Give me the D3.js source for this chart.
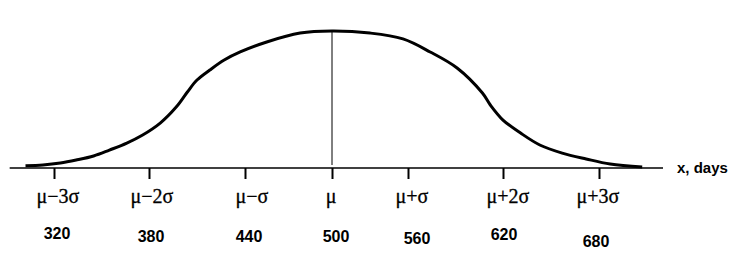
<!DOCTYPE html>
<html>
<head>
<meta charset="utf-8">
<script src="https://cdn.jsdelivr.net/npm/d3@7"></script>
<style>
  body { margin: 0; background: #fff; }
  svg { display: block; }
</style>
</head>
<body>
<div id="chart"></div>
<script>
// tick positions in days, with sigma labels
var tickDays = [320, 380, 440, 500, 560, 620, 680];
var sigmaLabels = ["\u03bc\u22123\u03c3", "\u03bc\u22122\u03c3", "\u03bc\u2212\u03c3", "\u03bc", "\u03bc+\u03c3", "\u03bc+2\u03c3", "\u03bc+3\u03c3"];
var dayLabels = ["320", "380", "440", "500", "560", "620", "680"];
var axisExtent = [292, 720];
var mean = 500, peak = 1;

// hand drawn bell curve: days and relative height
var curveDays = [302, 313, 324, 334, 345, 355, 366, 376, 387, 397, 404, 410, 418, 427, 437, 455, 478, 500,
                 530, 556, 574, 591, 607, 612, 620, 631, 643, 657, 672, 687, 707];
var curveHeight = [0.017, 0.022, 0.036, 0.058, 0.088, 0.131, 0.182, 0.241, 0.328, 0.445, 0.555, 0.642, 0.715, 0.788, 0.847, 0.92, 0.985, 1.0,
                   0.985, 0.942, 0.847, 0.73, 0.547, 0.46, 0.35, 0.255, 0.168, 0.109, 0.066, 0.029, 0.007];

var W = 751, H = 267;
var svg = d3.select("#chart").append("svg").attr("width", W).attr("height", H);

// ticks are not evenly spaced in the original, so piecewise scale
var x = d3.scaleLinear().domain(tickDays).range([54, 149, 245, 332, 408, 503, 599]);
var y = d3.scaleLinear().domain([0, peak]).range([168, 31]);

// labels were placed by hand, small nudges
var sigDx = [4, 3, 7, -1, 4, 5, -1];
var dayDx = [3, 2, 4, 4, 9, 1, -3];
var dayDy = [-4, -1, -1, -1, 1, -3, 4];

// axis line
svg.append("line")
  .attr("x1", x(axisExtent[0])).attr("x2", x(axisExtent[1]))
  .attr("y1", y(0)).attr("y2", y(0))
  .attr("stroke", "#000").attr("stroke-width", 1.5);

var axis = d3.axisBottom(x).tickValues(tickDays).tickSize(11).tickFormat("");
var g = svg.append("g").attr("transform", "translate(0," + y(0) + ")").call(axis);
g.select(".domain").remove();
g.selectAll(".tick line").attr("stroke", "#000").attr("stroke-width", 2);

// sigma labels
svg.selectAll("text.sig").data(tickDays).enter().append("text")
  .attr("class", "sig")
  .attr("x", function(d, i) { return x(d) + sigDx[i]; })
  .attr("y", 203)
  .attr("text-anchor", "middle")
  .attr("font-family", "'Liberation Serif', 'Times New Roman', serif")
  .attr("font-size", "20px")
  .attr("stroke", "#000").attr("stroke-width", 0.3)
  .text(function(d, i) { return sigmaLabels[i]; });

// day values
svg.selectAll("text.day").data(tickDays).enter().append("text")
  .attr("class", "day")
  .attr("x", function(d, i) { return x(d) + dayDx[i]; })
  .attr("y", function(d, i) { return 243 + dayDy[i]; })
  .attr("text-anchor", "middle")
  .attr("font-family", "'Liberation Sans', Arial, sans-serif")
  .attr("font-weight", "bold")
  .attr("font-size", "16px")
  .text(function(d, i) { return dayLabels[i]; });

svg.append("text")
  .attr("x", 677).attr("y", 173)
  .attr("font-family", "'Liberation Sans', Arial, sans-serif")
  .attr("font-weight", "bold")
  .attr("font-size", "15px")
  .text("x, days");

// mean line
svg.append("line")
  .attr("x1", x(mean)).attr("x2", x(mean))
  .attr("y1", y(peak)).attr("y2", y(0) - 3)
  .attr("stroke", "#000").attr("stroke-width", 1);

var pts = curveDays.map(function(d, i) { return [d, curveHeight[i]]; });
var line = d3.line()
  .x(function(d) { return x(d[0]); })
  .y(function(d) { return y(d[1]); })
  .curve(d3.curveCatmullRom);

svg.append("path").datum(pts)
  .attr("d", line)
  .attr("fill", "none")
  .attr("stroke", "#000")
  .attr("stroke-width", 3);
</script>
</body>
</html>
